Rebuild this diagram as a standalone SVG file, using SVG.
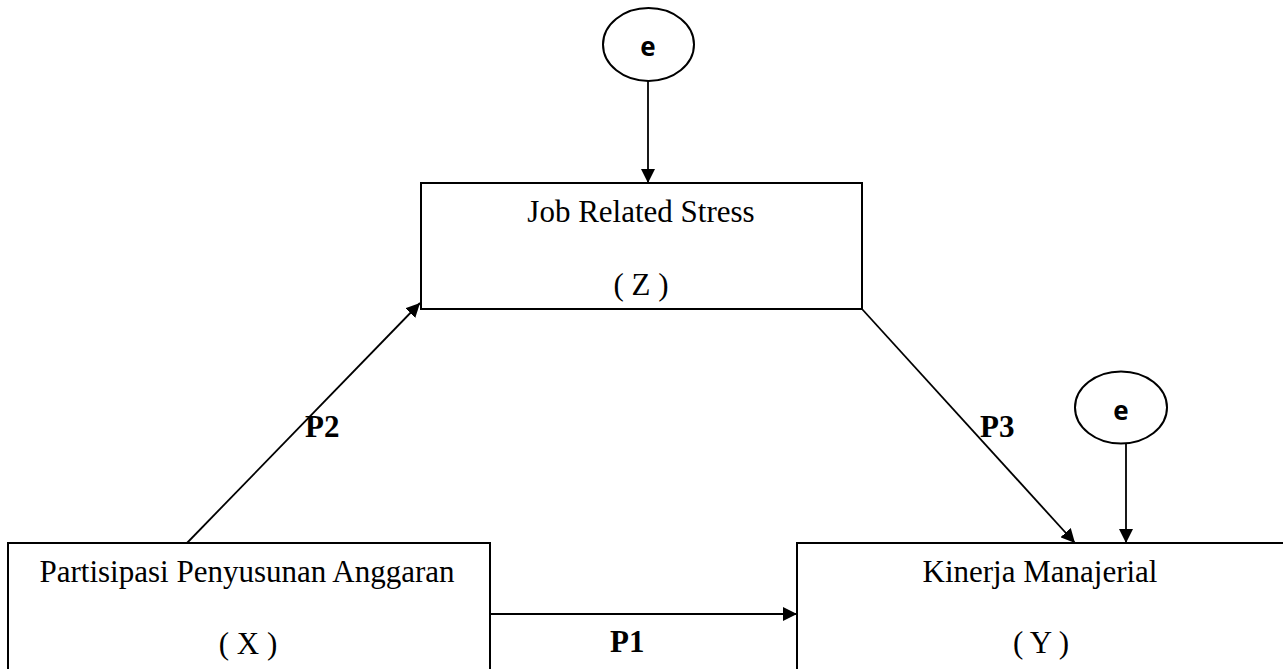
<svg xmlns="http://www.w3.org/2000/svg" width="1283" height="669" viewBox="0 0 1283 669">
<style>
.box{fill:#fff;stroke:#000;stroke-width:2}
.ell{fill:#fff;stroke:#000;stroke-width:2}
.t{font-family:"Liberation Serif","Times New Roman",serif;font-size:31px;fill:#000;text-anchor:middle}
.lbl{font-family:"Liberation Serif","Times New Roman",serif;font-size:31px;font-weight:bold;fill:#000}
.e{font-family:"Open Sans","Liberation Sans",sans-serif;font-size:26px;font-weight:bold;fill:#000;text-anchor:middle}
.c{stroke:#000;stroke-width:1.8;fill:none;marker-end:url(#ah)}
</style>
<defs>
<marker id="ah" viewBox="0 0 14 14" refX="14" refY="7" markerWidth="14" markerHeight="14" markerUnits="userSpaceOnUse" orient="auto">
<path d="M0,0 L14,7 L0,14 Z" fill="#000"/>
</marker>
</defs>
<rect width="1283" height="669" fill="#fff"/>
<g id="connectors">
<line class="c" x1="648" y1="81" x2="648" y2="183"/>
<line class="c" x1="1126" y1="443" x2="1126" y2="543"/>
<line class="c" x1="187" y1="543" x2="420" y2="303"/>
<line class="c" x1="862" y1="309" x2="1075" y2="543"/>
<line class="c" x1="490" y1="614" x2="797" y2="614"/>
<text class="lbl" x="305" y="437">P2</text>
<text class="lbl" x="980" y="437">P3</text>
<text class="lbl" x="610" y="652">P1</text>
</g>
<g id="node-e1">
<ellipse class="ell" cx="648.5" cy="44.5" rx="45.5" ry="36.5"/>
<text class="e" x="648" y="56">e</text>
</g>
<g id="node-e2">
<ellipse class="ell" cx="1121" cy="407.5" rx="46" ry="36"/>
<text class="e" x="1121" y="420">e</text>
</g>
<g id="node-z">
<rect class="box" x="421" y="183" width="441" height="126"/>
<text class="t" x="641" y="222">Job Related Stress</text>
<text class="t" x="641" y="295">( Z )</text>
</g>
<g id="node-x">
<rect class="box" x="8" y="543" width="482" height="140"/>
<text class="t" x="247" y="582">Partisipasi Penyusunan Anggaran</text>
<text class="t" x="248" y="654">( X )</text>
</g>
<g id="node-y">
<rect class="box" x="797" y="543" width="500" height="140"/>
<text class="t" x="1040" y="582">Kinerja Manajerial</text>
<text class="t" x="1041" y="653">( Y )</text>
</g>
</svg>
